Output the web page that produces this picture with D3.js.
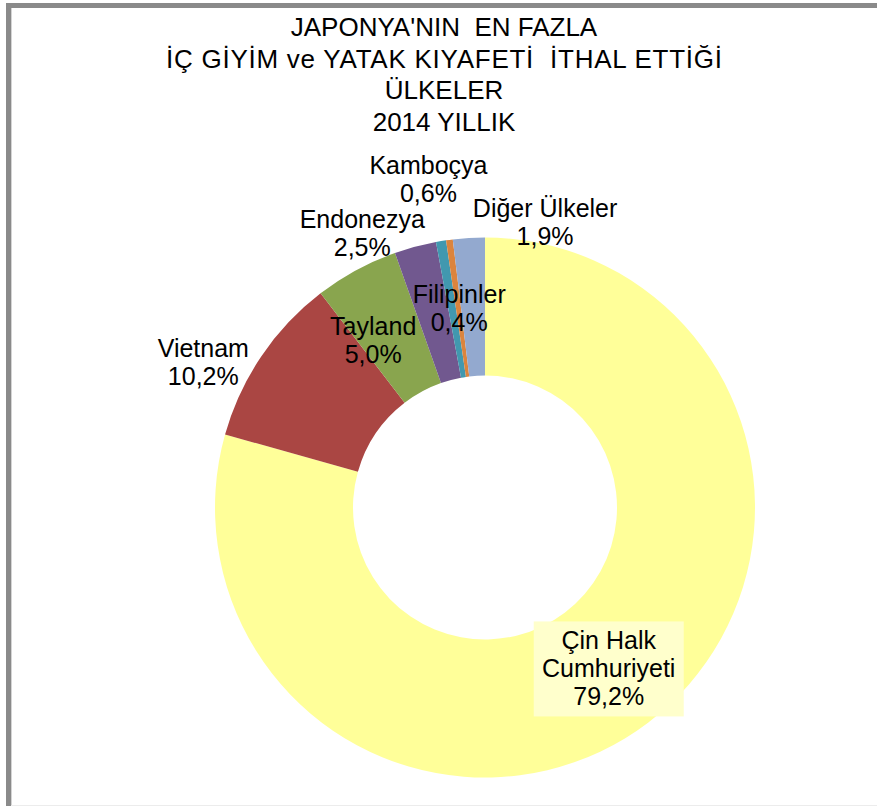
<!DOCTYPE html>
<html>
<head>
<meta charset="utf-8">
<script src="https://cdn.jsdelivr.net/npm/d3@7"></script>
<style>
  body { margin: 0; background: #fff; }
  text { font-family: "Liberation Sans", Arial, sans-serif; fill: #000; }
</style>
</head>
<body>
<script>
const width = 877;
const height = 806;

// data
const countries = ["Çin Halk Cumhuriyeti", "Vietnam", "Tayland", "Endonezya", "Kamboçya", "Filipinler", "Diğer Ülkeler"];
const shares = [79.2, 10.2, 5.0, 2.5, 0.6, 0.4, 1.9];
const labelLines = [["Çin Halk", "Cumhuriyeti"], ["Vietnam"], ["Tayland"], ["Endonezya"], ["Kamboçya"], ["Filipinler"], ["Diğer Ülkeler"]];
const titleLines = ["JAPONYA'NIN  EN FAZLA", "İÇ GİYİM ve YATAK KIYAFETİ  İTHAL ETTİĞİ", "ÜLKELER", "2014 YILLIK"];
const sliceColors = ["#FFFF99", "#AA4643", "#89A54E", "#71588F", "#4198AF", "#DB843D", "#93A9CF"];

// label placement (degrees shift from slice middle, distance from centre)
const labelShift = [-0.4, -6.8, -5.3, -9.1, -0.4, 0.2, 15.3];
const labelDist = [203, 317, 201, 301, 333, 201, 292];

const cx = 485, cy = 507.5;
const outerR = 270, innerR = 132;

const svg = d3.select("body")
  .append("svg")
  .attr("width", width)
  .attr("height", height);

// frame
svg.append("rect")
  .attr("x", 8.5).attr("y", 5.5)
  .attr("width", 1000).attr("height", 1000)
  .attr("fill", "none")
  .attr("stroke", "#8a8a8a")
  .attr("stroke-width", 5);
svg.append("line")
  .attr("x1", 11.5).attr("x2", 11.5).attr("y1", 8).attr("y2", height)
  .attr("stroke", "#d4d4d4");
svg.append("line")
  .attr("x1", 11).attr("x2", width).attr("y1", 805.5).attr("y2", 805.5)
  .attr("stroke", "#ececec");

// title
svg.append("text")
  .attr("text-anchor", "middle")
  .style("font-size", "26px")
  .style("white-space", "pre")
  .selectAll("tspan")
  .data(titleLines)
  .enter().append("tspan")
  .attr("x", 444)
  .attr("y", (d, i) => 36 + i * 31.6)
  .attr("textLength", (d, i) => i === 1 ? 556 : null)
  .attr("lengthAdjust", "spacing")
  .text(d => d);

const fmt = v => d3.format(".1f")(v).replace(".", ",") + "%";

const pie = d3.pie().sort(null).value(d => d);
const arcs = pie(shares);
const arc = d3.arc().innerRadius(innerR).outerRadius(outerR);

const chart = svg.append("g").attr("transform", `translate(${cx},${cy})`);

chart.selectAll("path")
  .data(arcs)
  .enter().append("path")
  .attr("d", arc)
  .attr("fill", (d, i) => sliceColors[i]);

const lineH = 28;
const capH = 18;
const labels = chart.selectAll("g.label")
  .data(arcs)
  .enter().append("g")
  .attr("class", "label")
  .attr("transform", (d, i) => {
    const a = (d.startAngle + d.endAngle) / 2 + labelShift[i] * Math.PI / 180;
    const r = labelDist[i];
    return `translate(${r * Math.sin(a)},${-r * Math.cos(a)})`;
  });

labels.each(function(d, i) {
  const g = d3.select(this);
  const lines = labelLines[i].concat([fmt(shares[i])]);
  const n = lines.length;
  const first = -((n - 1) * lineH + capH) / 2 + capH;
  const t = g.append("text")
    .attr("text-anchor", "middle")
    .style("font-size", "25px");
  t.selectAll("tspan")
    .data(lines)
    .enter().append("tspan")
    .attr("x", 0)
    .attr("y", (l, j) => first + j * lineH)
    .text(l => l);
  if (i === 0) {
    const bb = t.node().getBBox();
    g.insert("rect", "text")
      .attr("x", -75).attr("y", bb.y - 5)
      .attr("width", 150).attr("height", bb.height + 11)
      .attr("fill", "#FFFFCC");
  }
});
</script>
</body>
</html>
